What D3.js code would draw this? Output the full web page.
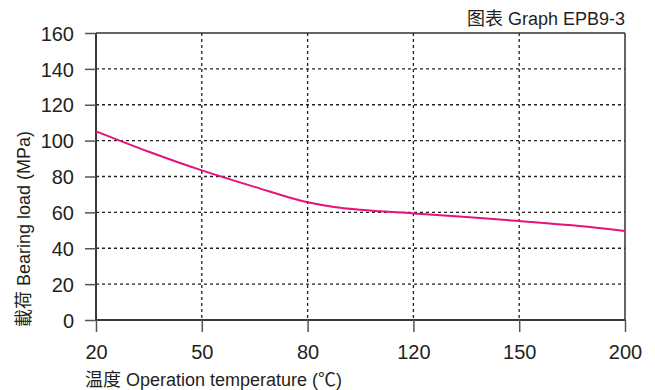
<!DOCTYPE html>
<html><head><meta charset="utf-8">
<script src="https://cdn.jsdelivr.net/npm/d3@7"></script>
<style>
html,body{margin:0;padding:0;background:#fff;}
text{font-family:"Liberation Sans",Arial,"Noto Sans CJK SC",sans-serif;fill:#231f20;}
</style></head>
<body><svg id="c" width="655" height="390"></svg>
<script>
const xTicks = [20, 50, 80, 120, 150, 200];
const yTicks = [0, 20, 40, 60, 80, 100, 120, 140, 160];
const temperature = [20, 35, 50, 65, 80, 90, 100, 120, 135, 150, 175, 200];
const bearingLoad = [105.2, 93.8, 83.4, 74.2, 65.6, 63.0, 61.4, 59.4, 57.4, 55.2, 52.8, 49.6];
const title = "图表 Graph EPB9-3";
const xTitle = "温度 Operation temperature (℃)";
const yTitle = "載荷 Bearing load (MPa)";

const svg = d3.select("#c");
const L = 96, R = 625, T = 33, B = 320;
const step = (R - L) / (xTicks.length - 1);
const x = d3.scaleLinear().domain(xTicks).range(xTicks.map((d, i) => L + i * step));
const y = d3.scaleLinear().domain([0, 160]).range([B, T]);

// grid
const g = svg.append("g");
g.selectAll(".gy").data(yTicks.filter(d => d > 0 && d < 160)).join("line")
  .attr("x1", L).attr("x2", R).attr("y1", d => y(d)).attr("y2", d => y(d))
  .attr("stroke", "#231f20").attr("stroke-width", 1.3).attr("stroke-dasharray", "3,3");
g.selectAll(".gx").data(xTicks.slice(1, -1)).join("line")
  .attr("y1", T).attr("y2", B).attr("x1", d => x(d)).attr("x2", d => x(d))
  .attr("stroke", "#231f20").attr("stroke-width", 1.3).attr("stroke-dasharray", "3,3");

// frame top/right
svg.append("line").attr("x1", L).attr("x2", R).attr("y1", T).attr("y2", T).attr("stroke", "#333").attr("stroke-width", 1.5);
svg.append("line").attr("x1", R).attr("x2", R).attr("y1", T).attr("y2", B).attr("stroke", "#333").attr("stroke-width", 1.5);

// axes
const yAxis = svg.append("g").attr("transform", `translate(${L},0)`)
  .call(d3.axisLeft(y).tickValues(yTicks).tickSize(11).tickPadding(11));
const xAxis = svg.append("g").attr("transform", `translate(0,${B})`)
  .call(d3.axisBottom(x).tickValues(xTicks).tickFormat(d3.format("d")).tickSize(12).tickPadding(13));
[yAxis, xAxis].forEach(a => {
  a.select(".domain").attr("stroke", "#3a3a3a").attr("stroke-width", 2);
  a.selectAll(".tick line").attr("stroke", "#555").attr("stroke-width", 1.5);
  a.selectAll("text").attr("font-size", 20).attr("fill", "#231f20")
    .attr("font-family", "Liberation Sans, Arial, sans-serif");
});
yAxis.select(".domain").attr("d", `M0,${T}V${B}`);
xAxis.select(".domain").attr("d", `M${L},0H${R}`);
yAxis.selectAll(".tick text").attr("dy", "0.36em");

// curve
svg.append("path").datum(temperature.map((t, i) => [t, bearingLoad[i]]))
  .attr("fill", "none").attr("stroke", "#e5127d").attr("stroke-width", 2)
  .attr("d", d3.line().x(d => x(d[0])).y(d => y(d[1])).curve(d3.curveMonotoneX));

// texts
svg.append("text").attr("x", R).attr("y", 25).attr("text-anchor", "end")
  .attr("font-size", 18).text(title);
svg.append("text").attr("x", 85).attr("y", 386).attr("font-size", 18).text(xTitle);
svg.append("text").attr("transform", "translate(30,327) rotate(-90)")
  .attr("font-size", 18).text(yTitle);
</script></body></html>
